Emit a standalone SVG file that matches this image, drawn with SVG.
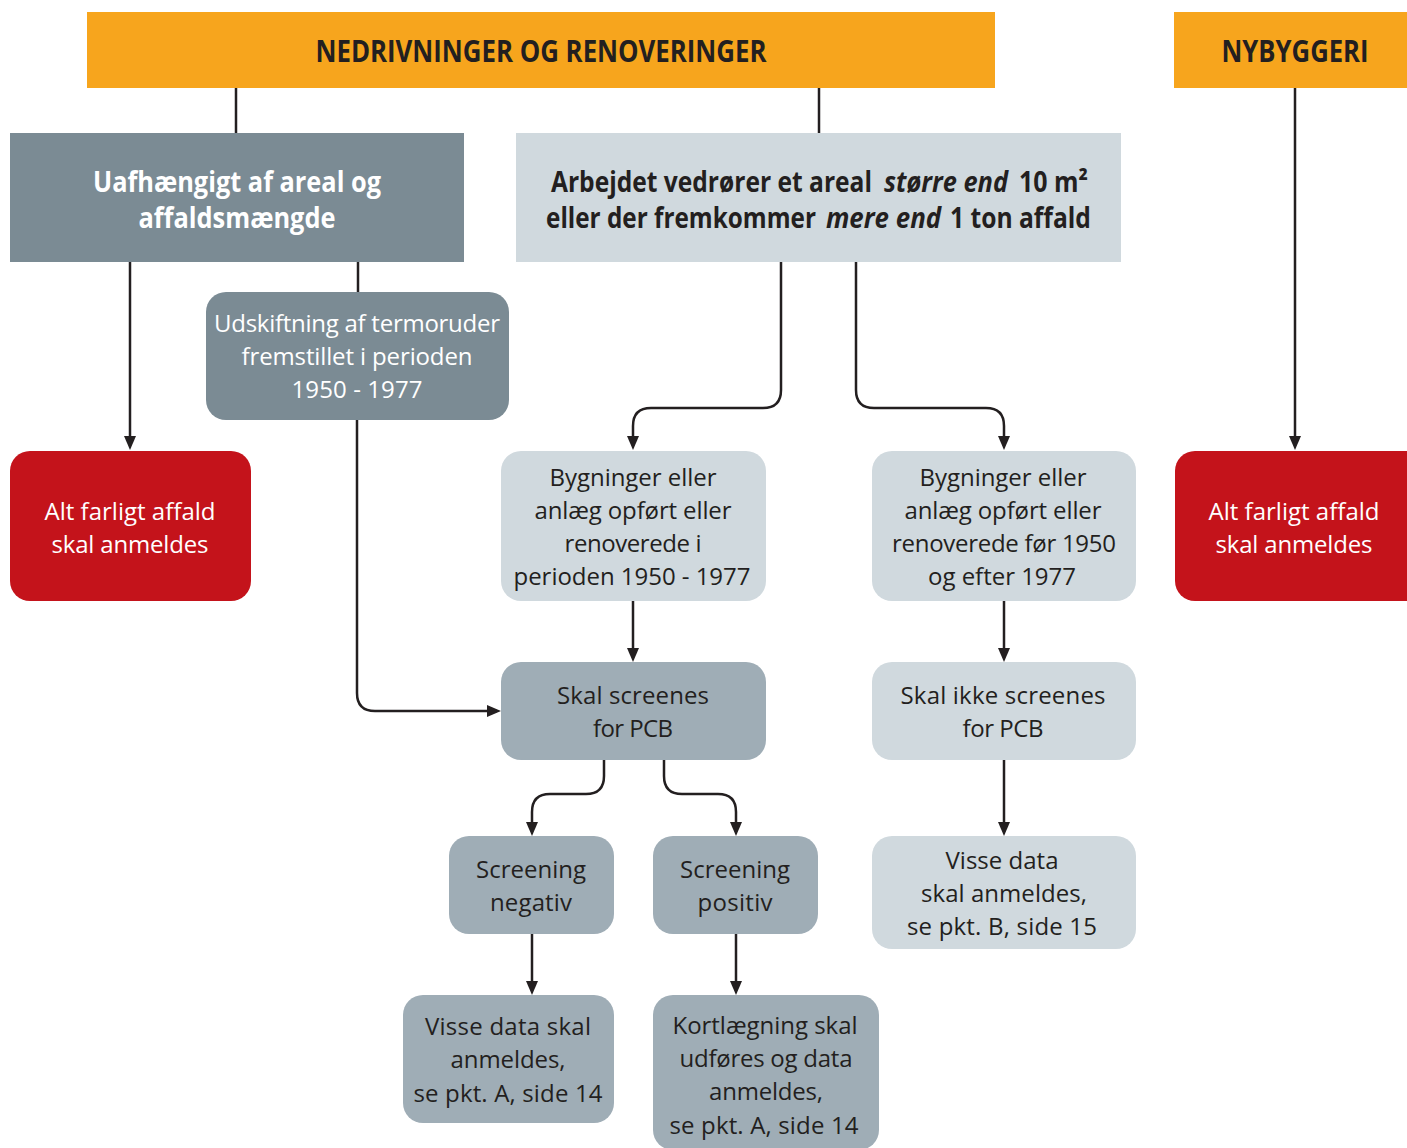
<svg xmlns="http://www.w3.org/2000/svg" width="1407" height="1148" viewBox="0 0 1407 1148">
<style>
.hdr{fill:#F7A51D}
.dk{fill:#7B8B94}
.lt{fill:#D0D9DE}
.md{fill:#9FADB6}
.red{fill:#C4131B}
text{font-family:"Open Sans","Noto Sans","Liberation Sans",sans-serif;text-anchor:middle}
.ht{font-size:30px;font-weight:700;fill:#231F20}
.bt{font-size:28px;font-weight:700}
.st{text-anchor:start;fill:#231F20}
.it{font-style:italic}
.t{font-size:24px;fill:#231F20}
.w{fill:#FFFFFF}
.conn path{fill:none;stroke:#231F20;stroke-width:2.5}
</style>
<defs>
<marker id="arr" markerUnits="userSpaceOnUse" markerWidth="14" markerHeight="12" refX="10" refY="6" orient="auto">
<path d="M0,0 L14,6 L0,12 z" fill="#231F20"/>
</marker>
</defs>

<g class="conn">
<path d="M236,88 V133"/>
<path d="M819,88 V133"/>
<path d="M130,262 V446" marker-end="url(#arr)"/>
<path d="M358,262 V292"/>
<path d="M357,420 V693 Q357,711 375,711 H497" marker-end="url(#arr)"/>
<path d="M781,262 V390 Q781,408 763,408 H651 Q633,408 633,426 V446" marker-end="url(#arr)"/>
<path d="M856,262 V390 Q856,408 874,408 H986 Q1004,408 1004,426 V446" marker-end="url(#arr)"/>
<path d="M1295,88 V446" marker-end="url(#arr)"/>
<path d="M633,601 V658" marker-end="url(#arr)"/>
<path d="M1004,601 V658" marker-end="url(#arr)"/>
<path d="M1004,760 V832" marker-end="url(#arr)"/>
<path d="M604,760 V776 Q604,794 586,794 H550 Q532,794 532,812 V832" marker-end="url(#arr)"/>
<path d="M664,760 V776 Q664,794 682,794 H718 Q736,794 736,812 V832" marker-end="url(#arr)"/>
<path d="M532,934 V991" marker-end="url(#arr)"/>
<path d="M736,934 V991" marker-end="url(#arr)"/>
</g>

<g id="n-nedrivninger">
<rect class="hdr" x="87" y="12" width="908" height="76"/>
<text class="ht" x="541" y="62" textLength="451" lengthAdjust="spacingAndGlyphs">NEDRIVNINGER OG RENOVERINGER</text>
</g>
<g id="n-nybyggeri">
<rect class="hdr" x="1174" y="12" width="240" height="76"/>
<text class="ht" x="1295" y="62" textLength="147" lengthAdjust="spacingAndGlyphs">NYBYGGERI</text>
</g>
<g id="n-uafhaengigt">
<rect class="dk" x="10" y="133" width="454" height="129"/>
<text class="bt w" x="237" y="192" textLength="288" lengthAdjust="spacingAndGlyphs">Uafhængigt af areal og</text>
<text class="bt w" x="237" y="228" textLength="197" lengthAdjust="spacingAndGlyphs">affaldsmængde</text>
</g>
<g id="n-arbejdet">
<rect class="lt" x="516" y="133" width="605" height="129"/>
<g transform="scale(0.88,1)">
<text class="bt st" x="626.1" y="192" textLength="364.8" lengthAdjust="spacingAndGlyphs">Arbejdet vedrører et areal</text>
<text class="bt st it" x="1004.5" y="192" textLength="141" lengthAdjust="spacingAndGlyphs">større end</text>
<text class="bt st" x="1158" y="192" textLength="78.4" lengthAdjust="spacingAndGlyphs">10 m²</text>
<text class="bt st" x="620.5" y="228" textLength="306.8" lengthAdjust="spacingAndGlyphs">eller der fremkommer</text>
<text class="bt st it" x="938.5" y="228" textLength="131" lengthAdjust="spacingAndGlyphs">mere end</text>
<text class="bt st" x="1079.5" y="228" textLength="160.2" lengthAdjust="spacingAndGlyphs">1 ton affald</text>
</g>
</g>
<g id="n-udskiftning">
<rect class="dk" x="206" y="292" width="303" height="128" rx="20"/>
<text class="t w" x="357" y="332" textLength="286" lengthAdjust="spacing">Udskiftning af termoruder</text>
<text class="t w" x="357" y="365" textLength="231" lengthAdjust="spacing">fremstillet i perioden</text>
<text class="t w" x="357" y="398" textLength="131" lengthAdjust="spacing">1950 - 1977</text>
</g>
<g id="n-alt-venstre">
<rect class="red" x="10" y="451" width="241" height="150" rx="20"/>
<text class="t w" x="130" y="520" textLength="171" lengthAdjust="spacing">Alt farligt affald</text>
<text class="t w" x="130" y="553" textLength="157" lengthAdjust="spacing">skal anmeldes</text>
</g>
<g id="n-alt-hoejre">
<rect class="red" x="1175" y="451" width="250" height="150" rx="20"/>
<text class="t w" x="1294" y="520" textLength="171" lengthAdjust="spacing">Alt farligt affald</text>
<text class="t w" x="1294" y="553" textLength="157" lengthAdjust="spacing">skal anmeldes</text>
</g>
<g id="n-bygninger-1950">
<rect class="lt" x="501" y="451" width="265" height="150" rx="20"/>
<text class="t" x="633" y="486" textLength="167" lengthAdjust="spacing">Bygninger eller</text>
<text class="t" x="633" y="519" textLength="197" lengthAdjust="spacing">anlæg opført eller</text>
<text class="t" x="633" y="552" textLength="137" lengthAdjust="spacing">renoverede i</text>
<text class="t" x="632" y="585" textLength="237" lengthAdjust="spacing">perioden 1950 - 1977</text>
</g>
<g id="n-bygninger-foer">
<rect class="lt" x="872" y="451" width="264" height="150" rx="20"/>
<text class="t" x="1003" y="486" textLength="167" lengthAdjust="spacing">Bygninger eller</text>
<text class="t" x="1003" y="519" textLength="197" lengthAdjust="spacing">anlæg opført eller</text>
<text class="t" x="1004" y="552" textLength="224" lengthAdjust="spacing">renoverede før 1950</text>
<text class="t" x="1002" y="585" textLength="148" lengthAdjust="spacing">og efter 1977</text>
</g>
<g id="n-skal-screenes">
<rect class="md" x="501" y="662" width="265" height="98" rx="20"/>
<text class="t" x="633" y="704" textLength="152" lengthAdjust="spacing">Skal screenes</text>
<text class="t" x="633" y="737" textLength="80" lengthAdjust="spacing">for PCB</text>
</g>
<g id="n-skal-ikke">
<rect class="lt" x="872" y="662" width="264" height="98" rx="20"/>
<text class="t" x="1003" y="704" textLength="205" lengthAdjust="spacing">Skal ikke screenes</text>
<text class="t" x="1003" y="737" textLength="81" lengthAdjust="spacing">for PCB</text>
</g>
<g id="n-visse-b">
<rect class="lt" x="872" y="836" width="264" height="113" rx="20"/>
<text class="t" x="1002" y="869" textLength="113" lengthAdjust="spacing">Visse data</text>
<text class="t" x="1004" y="902" textLength="166" lengthAdjust="spacing">skal anmeldes,</text>
<text class="t" x="1002" y="935" textLength="190" lengthAdjust="spacing">se pkt. B, side 15</text>
</g>
<g id="n-negativ">
<rect class="md" x="449" y="836" width="165" height="98" rx="20"/>
<text class="t" x="531" y="878" textLength="110" lengthAdjust="spacing">Screening</text>
<text class="t" x="531" y="911" textLength="82" lengthAdjust="spacing">negativ</text>
</g>
<g id="n-positiv">
<rect class="md" x="653" y="836" width="165" height="98" rx="20"/>
<text class="t" x="735" y="878" textLength="110" lengthAdjust="spacing">Screening</text>
<text class="t" x="735" y="911" textLength="75" lengthAdjust="spacing">positiv</text>
</g>
<g id="n-visse-a">
<rect class="md" x="403" y="995" width="211" height="128" rx="20"/>
<text class="t" x="508" y="1035" textLength="166" lengthAdjust="spacing">Visse data skal</text>
<text class="t" x="508" y="1068" textLength="115" lengthAdjust="spacing">anmeldes,</text>
<text class="t" x="508" y="1102" textLength="189" lengthAdjust="spacing">se pkt. A, side 14</text>
</g>
<g id="n-kortlaegning">
<rect class="md" x="653" y="995" width="226" height="155" rx="20"/>
<text class="t" x="765" y="1034" textLength="185" lengthAdjust="spacing">Kortlægning skal</text>
<text class="t" x="766" y="1067" textLength="173" lengthAdjust="spacing">udføres og data</text>
<text class="t" x="766" y="1100" textLength="114" lengthAdjust="spacing">anmeldes,</text>
<text class="t" x="764" y="1134" textLength="189" lengthAdjust="spacing">se pkt. A, side 14</text>
</g>
</svg>
